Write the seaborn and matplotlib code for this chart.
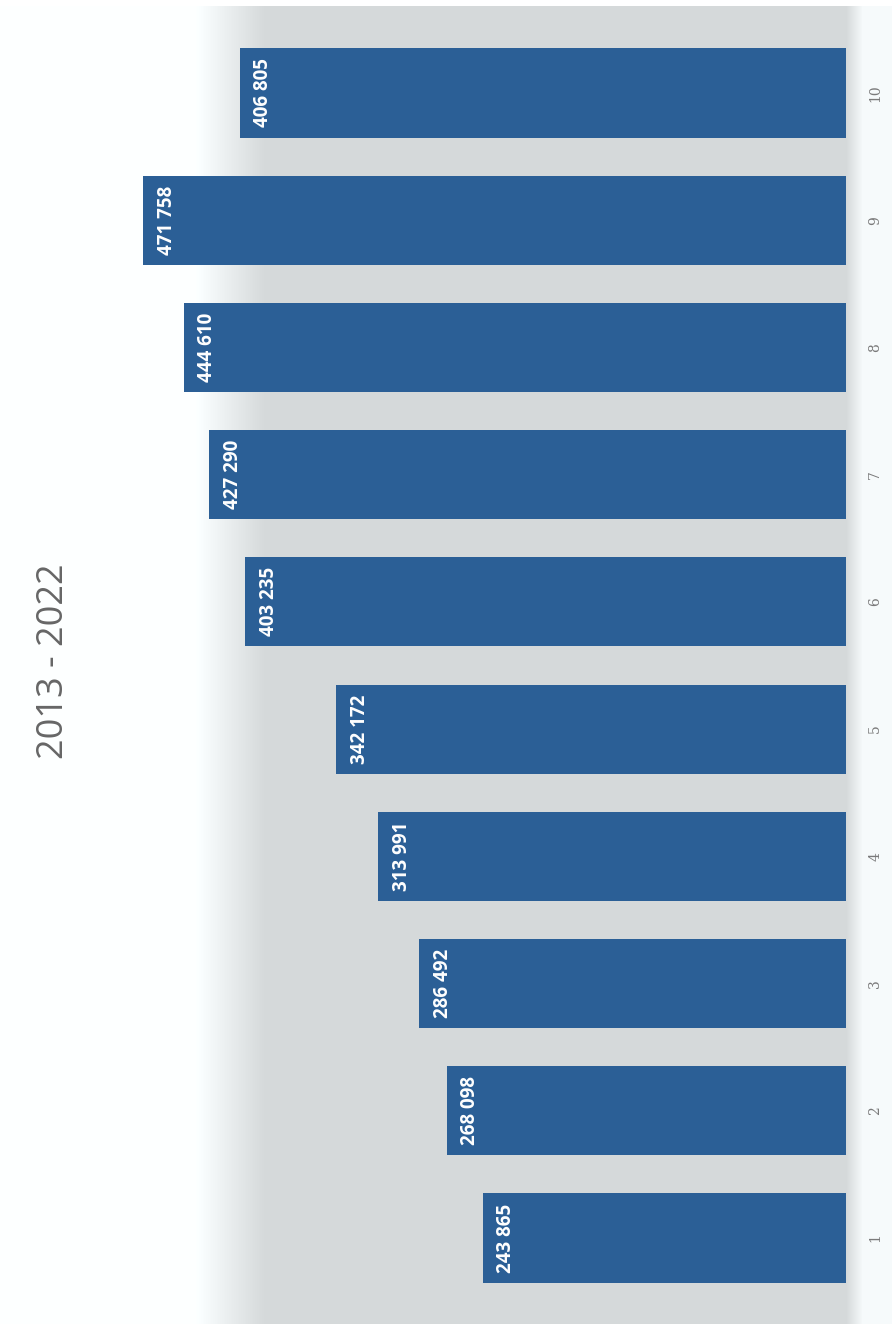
import numpy as np
import pandas as pd
import matplotlib
matplotlib.use("Agg")
import matplotlib.pyplot as plt
import seaborn as sns

# Data
categories = ["1", "2", "3", "4", "5", "6", "7", "8", "9", "10"]
values = [243865, 268098, 286492, 313991, 342172, 403235, 427290, 444610, 471758, 406805]
value_labels = ["243 865", "268 098", "286 492", "313 991", "342 172",
                "403 235", "427 290", "444 610", "471 758", "406 805"]
title = "2013 - 2022"

bar_color = "#2b5f96"

sns.set_theme(style="white")
plt.rcParams["font.family"] = ["Open Sans", "DejaVu Sans"]

W, H = 892, 1324
fig = plt.figure(figsize=(W / 100, H / 100), dpi=100)

# Soft grey backdrop behind the bars
bg = fig.add_axes([0, 0, 1, 1], zorder=0)
xs = np.arange(W)
prof = np.full(W, 215.0)
prof[xs < 195] = 255.0
ramp = (xs >= 195) & (xs < 265)
prof[ramp] = 255.0 - (255.0 - 215.0) * (xs[ramp] - 195) / 70.0
edge = (xs >= 846) & (xs < 862)
prof[edge] = 215.0 + (248.0 - 215.0) * (xs[edge] - 846) / 16.0
prof[xs >= 862] = 248.0
img = np.empty((H, W, 3))
img[:, :, 0] = np.clip(prof - 2, 0, 255)
img[:, :, 1] = np.clip(prof + 2, 0, 255)
img[:, :, 2] = np.clip(prof + 3, 0, 255)
img[:6, :, :] = 255.0
bg.imshow(img.astype(np.uint8), aspect="auto", interpolation="bilinear")
bg.set_axis_off()

# Bar chart (bars grow leftwards, categories stacked bottom to top)
df = pd.DataFrame({"category": categories, "value": values, "label": value_labels})
order = categories[::-1]
ax = fig.add_axes([0.1132, 0.01692, 0.8352, 0.9609], zorder=1)
ax.patch.set_alpha(0)
sns.barplot(data=df, x="value", y="category", order=order, orient="h",
            color=bar_color, saturation=1, width=0.7, linewidth=0, ax=ax)
ax.set_xlim(500000, 0)
ax.set_ylim(9.5, -0.5)

for i, cat in enumerate(order):
    row = df[df["category"] == cat].iloc[0]
    ax.annotate(row["label"], xy=(row["value"], i), xytext=(17, 0),
                textcoords="offset points", rotation=90, ha="center", va="center",
                color="white", fontweight="bold", fontsize=13.5)

ax.set_xticks([])
ax.set_xlabel("")
ax.set_ylabel("")
ax.yaxis.tick_right()
ax.tick_params(axis="y", length=0, pad=16, labelrotation=90, labelsize=10,
               labelcolor="#7a7a7a")
for t in ax.get_yticklabels():
    t.set_family(["DejaVu Serif"])
    t.set_va("center")
for s in ax.spines.values():
    s.set_visible(False)

fig.text(54 / W, 1 - 661 / H, title, rotation=90, ha="center", va="center",
         fontsize=26, color="#666666")

fig.savefig("out.png", dpi=100)
